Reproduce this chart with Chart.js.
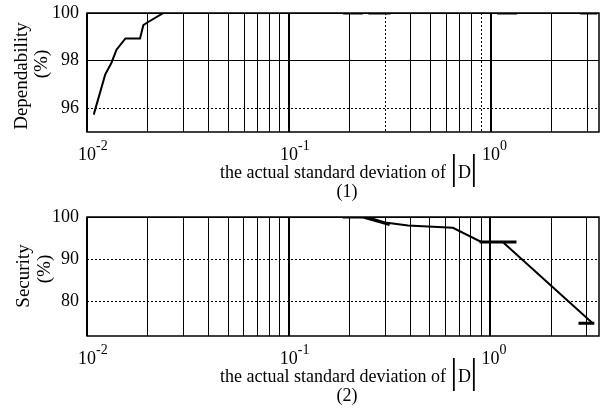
<!DOCTYPE html>
<html>
<head>
<meta charset="utf-8">
<script src="https://cdn.jsdelivr.net/npm/chart.js@4.4.1/dist/chart.umd.min.js"></script>
<style>
  html, body { margin: 0; padding: 0; background: #fff; }
  #wrap { position: relative; width: 607px; height: 411px; }
  #wrap canvas { position: absolute; left: 0; }
  #chart-dep { top: 0; }
  #chart-sec { top: 205px; }
</style>
</head>
<body>
<div id="wrap">
  <canvas id="chart-dep" width="607" height="205"></canvas>
  <canvas id="chart-sec" width="607" height="206"></canvas>
</div>
<script>
// ------------------------------------------------------------
// Two stacked panels: dependability (1) and security (2)
// against the actual standard deviation of |D| (log axis).
// ------------------------------------------------------------

// shared x axis: grid line positions and labelled decades
var xGridVals = [0.01, 0.02, 0.03, 0.04, 0.05, 0.06, 0.07, 0.08, 0.09,
                 0.1, 0.2, 0.3, 0.4, 0.5, 0.6, 0.7, 0.8, 0.9, 1, 2, 3];
var xLabelVals = [0.01, 0.1, 1];
var xLabelExp = ['-2', '-1', '0'];

// panel (1): dependability
var depX = [0.0108, 0.0123, 0.0132, 0.0140, 0.0155, 0.0183, 0.0190, 0.0198, 0.0239, 3.2];
var depY = [95.73, 97.41, 97.9, 98.46, 98.93, 98.93, 99.49, 99.59, 100, 100];
var depErrLo = [0.185, 0.247, 1.07, 2.76];
var depErrHi = [0.232, 0.318, 1.345, 3.35];
var depErrY = [100, 100, 100, 100];
var depTicks = [96, 98, 100];
var depDottedY = [96];
var depDottedX = [0.3, 0.9];

// panel (2): security
var secX = [0.0107, 0.245, 0.30, 0.39, 0.651, 0.90, 1.15, 3.21];
var secY = [100, 100, 98.7, 98.0, 97.45, 94.1, 94.1, 74.8];
var secExtraX = [0.229, 0.316];
var secExtraY = [100, 98.1];
var secErrLo = [0.185, 0.883, 2.73];
var secErrHi = [0.232, 1.345, 3.27];
var secErrY = [100, 94.1, 74.8];
var secTicks = [80, 90, 100];
var secDottedY = [80, 90];
var secDottedX = [];

var FONT = "'Liberation Serif', 'Times New Roman', serif";

function zip(xs, ys) {
  return xs.map(function(x, i) { return { x: x, y: ys[i] }; });
}

// short horizontal bars, broken apart by null points
function errSegments(lo, hi, y) {
  var pts = [];
  for (var i = 0; i < lo.length; i++) {
    pts.push({ x: lo[i], y: y[i] }, { x: hi[i], y: y[i] }, { x: hi[i], y: null });
  }
  return pts;
}

// frame, 10^n labels, axis titles and caption
var panelDecor = {
  id: 'panelDecor',
  afterDraw: function(chart, args, opts) {
    var ctx = chart.ctx, area = chart.chartArea, xs = chart.scales.x;
    ctx.save();
    ctx.strokeStyle = '#000';
    ctx.lineWidth = 1.5;
    ctx.strokeRect(area.left, area.top, area.right - area.left, area.bottom - area.top);

    ctx.fillStyle = '#000';
    ctx.textBaseline = 'alphabetic';
    xLabelVals.forEach(function(v, i) {
      var px = xs.getPixelForValue(v);
      ctx.font = '18px ' + FONT;
      ctx.textAlign = 'center';
      ctx.fillText('10', px, area.bottom + 28);
      var w = ctx.measureText('10').width;
      ctx.font = '14px ' + FONT;
      ctx.textAlign = 'left';
      ctx.fillText(xLabelExp[i], px + w / 2, area.bottom + 18);
    });

    // x title: "... of |D|"
    var cx = (area.left + area.right) / 2 + 4;
    var base = area.bottom + 46;
    ctx.font = '18px ' + FONT;
    var wMain = ctx.measureText(opts.xTitle).width;
    var wD = ctx.measureText('D').width;
    var total = wMain + wD + 15;
    var x0 = cx - total / 2;
    ctx.textAlign = 'left';
    ctx.fillText(opts.xTitle, x0, base);
    var bar1 = x0 + wMain + 8;
    ctx.fillText('D', bar1 + 4, base);
    var bar2 = bar1 + 4 + wD + 3;
    ctx.font = '36px ' + FONT;
    ctx.textAlign = 'center';
    ctx.fillText('|', bar1, base + 1);
    ctx.fillText('|', bar2, base + 1);

    ctx.font = '18px ' + FONT;
    ctx.fillText(opts.caption, cx, area.bottom + 65);

    // rotated y title lines
    opts.yTitle.forEach(function(t) {
      ctx.save();
      ctx.translate(t.x, t.y);
      ctx.rotate(-Math.PI / 2);
      ctx.textAlign = 'center';
      ctx.font = '19px ' + FONT;
      ctx.fillText(t.text, 0, 0);
      ctx.restore();
    });
    ctx.restore();
  }
};

function makePanel(id, p) {
  var canvas = document.getElementById(id);
  return new Chart(canvas.getContext('2d'), {
    type: 'line',
    data: {
      datasets: [{
        data: zip(p.x, p.y),
        borderColor: '#000',
        borderWidth: 2,
        pointRadius: 0,
        tension: 0
      }].concat(p.extra ? [{
        data: p.extra,
        borderColor: '#000',
        borderWidth: 2,
        pointRadius: 0
      }] : []).concat([{
        data: p.err,
        borderColor: '#000',
        borderWidth: 3,
        pointRadius: 0,
        spanGaps: false
      }])
    },
    options: {
      responsive: false,
      animation: false,
      layout: { padding: { top: p.top, right: 8, left: 0, bottom: 0 } },
      plugins: {
        legend: { display: false },
        tooltip: { enabled: false },
        panelDecor: { xTitle: 'the actual standard deviation of', caption: p.caption, yTitle: p.yTitle }
      },
      scales: {
        x: {
          type: 'logarithmic',
          min: 0.01,
          max: p.xMax,
          afterBuildTicks: function(s) { s.ticks = xGridVals.map(function(v) { return { value: v }; }); },
          afterFit: function(s) { s.height = p.xHeight; s.paddingLeft = 0; s.paddingRight = 0; },
          ticks: { display: false, autoSkip: false },
          grid: {
            color: '#000',
            drawTicks: false,
            lineWidth: function(c) { return c.tick && xLabelVals.indexOf(c.tick.value) >= 0 ? 2 : 1; }
          },
          border: {
            display: false,
            dash: function(c) { return c.tick && p.dottedX.indexOf(c.tick.value) >= 0 ? [2, 2] : []; }
          }
        },
        y: {
          min: p.yMin,
          max: 100,
          afterBuildTicks: function(s) { s.ticks = p.ticks.map(function(v) { return { value: v }; }); },
          afterFit: function(s) { s.width = 87; s.paddingTop = 0; s.paddingBottom = 0; },
          ticks: { color: '#000', padding: 8, font: { family: FONT, size: 18 }, autoSkip: false },
          grid: { color: '#000', lineWidth: 1, drawTicks: false },
          border: {
            display: false,
            dash: function(c) { return c.tick && p.dottedY.indexOf(c.tick.value) >= 0 ? [2, 2] : []; }
          }
        }
      }
    },
    plugins: [panelDecor]
  });
}

makePanel('chart-dep', {
  x: depX, y: depY,
  err: errSegments(depErrLo, depErrHi, depErrY),
  yMin: 95, ticks: depTicks, dottedY: depDottedY, dottedX: depDottedX,
  xMax: 3.42, top: 13, xHeight: 73, caption: '(1)',
  yTitle: [{ text: 'Dependability', x: 27, y: 76 }, { text: '(%)', x: 47, y: 64 }]
});

makePanel('chart-sec', {
  x: secX, y: secY,
  extra: zip(secExtraX, secExtraY),
  err: errSegments(secErrLo, secErrHi, secErrY),
  yMin: 71.8, ticks: secTicks, dottedY: secDottedY, dottedX: secDottedX,
  xMax: 3.45, top: 12, xHeight: 75, caption: '(2)',
  yTitle: [{ text: 'Security', x: 29, y: 71 }, { text: '(%)', x: 50, y: 64 }]
});
</script>
</body>
</html>
